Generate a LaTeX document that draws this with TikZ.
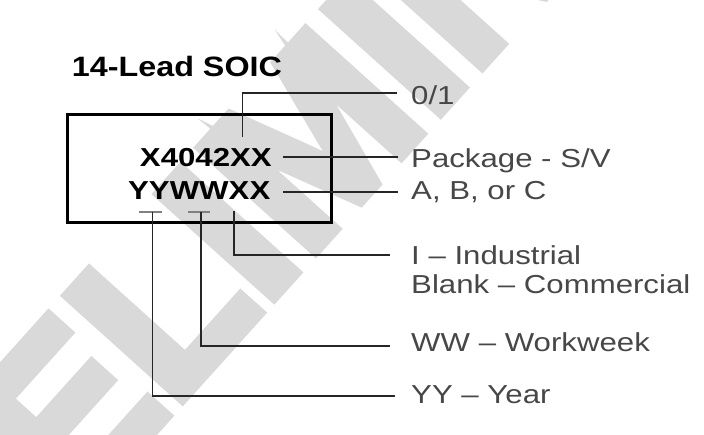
\documentclass[tikz,border=0pt]{standalone}
\usepackage{graphicx}
\usepackage{fontspec}
\setmainfont{Liberation Sans}
\newfontfamily\wmfont[FakeBold=5]{Liberation Sans Bold}
\newcommand\sxl[1]{\scalebox{1.2}[1]{#1}}
\newcommand\sxt[1]{\scalebox{1.154}[1]{#1}}
\begin{document}
\begin{tikzpicture}[x=1pt,y=-1pt,
  lab/.style={anchor=base west, inner sep=0pt, text=black!72, font=\fontsize{26}{30}\selectfont},
  marktext/.style={anchor=base east, inner sep=0pt, text=black, font=\fontsize{26}{30}\bfseries\selectfont},
  lead/.style={line width=1.4pt, draw=black!85},
  tickline/.style={line width=1.8pt, draw=black!50},
  wmark/.style={rotate=48, anchor=base west, inner sep=0pt, text=black!15, font=\fontsize{224}{224}\wmfont}]
\useasboundingbox (0,0) rectangle (704,435);
\begin{scope}
\clip (0,0) rectangle (704,435);
\node[wmark] (wm) at (-136,752) {PRELIMINARY};
\end{scope}
% title
\node[anchor=base west, inner sep=0pt, font=\fontsize{28}{32}\bfseries\selectfont] (title) at (71.7,76.7) {\sxt{14-Lead SOIC}};
% package box
\coordinate (bx1) at (67.7,114.7);
\coordinate (bx2) at (331.3,223);
\draw[line width=3pt] (bx1) rectangle (bx2);
% marking lines
\node[marktext] (m1) at (272,166.7) {\sxl{X4042XX}};
\node[marktext] (m2) at (270.5,200) {\sxl{YYWWXX}};
% labels
\node[lab] (l0) at (411,105) {\sxl{0/1}};
\node[lab] (l1) at (411,167.3) {\sxl{Package - S/V}};
\node[lab] (l2) at (411,200) {\sxl{A, B, or C}};
\node[lab] (l3) at (411,265) {\sxl{I – Industrial}};
\node[lab] (l3b) at (411,293.3) {\sxl{Blank – Commercial}};
\node[lab] (l4) at (411,351.7) {\sxl{WW – Workweek}};
\node[lab] (l5) at (411,403.3) {\sxl{YY – Year}};
% coordinates for connectors
\coordinate (s0) at (242.7,137);
\coordinate (e0) at (397,93);
\coordinate (s1) at (283,157);
\coordinate (e1) at (398,157);
\coordinate (s2) at (283,192);
\coordinate (e2) at (398,192);
\coordinate (s3) at (234,211.5);
\coordinate (e3) at (390,255);
\coordinate (s4) at (201,212);
\coordinate (e4) at (390,346);
\coordinate (s5) at (152.3,212);
\coordinate (e5) at (395,396);
\coordinate (ya) at (139,212);
\coordinate (yb) at (162,212);
\coordinate (wa) at (188,212);
\coordinate (wb) at (210,212);
% ticks
\draw[tickline] (ya) -- (yb);
\draw[tickline] (wa) -- (wb);
% leaders
\draw[lead] (s0) |- (e0);
\draw[lead] (s1) -- (e1);
\draw[lead] (s2) -- (e2);
\draw[lead] (s3) |- (e3);
\draw[lead] (s4) |- (e4);
\draw[lead] (s5) |- (e5);
\end{tikzpicture}
\end{document}
